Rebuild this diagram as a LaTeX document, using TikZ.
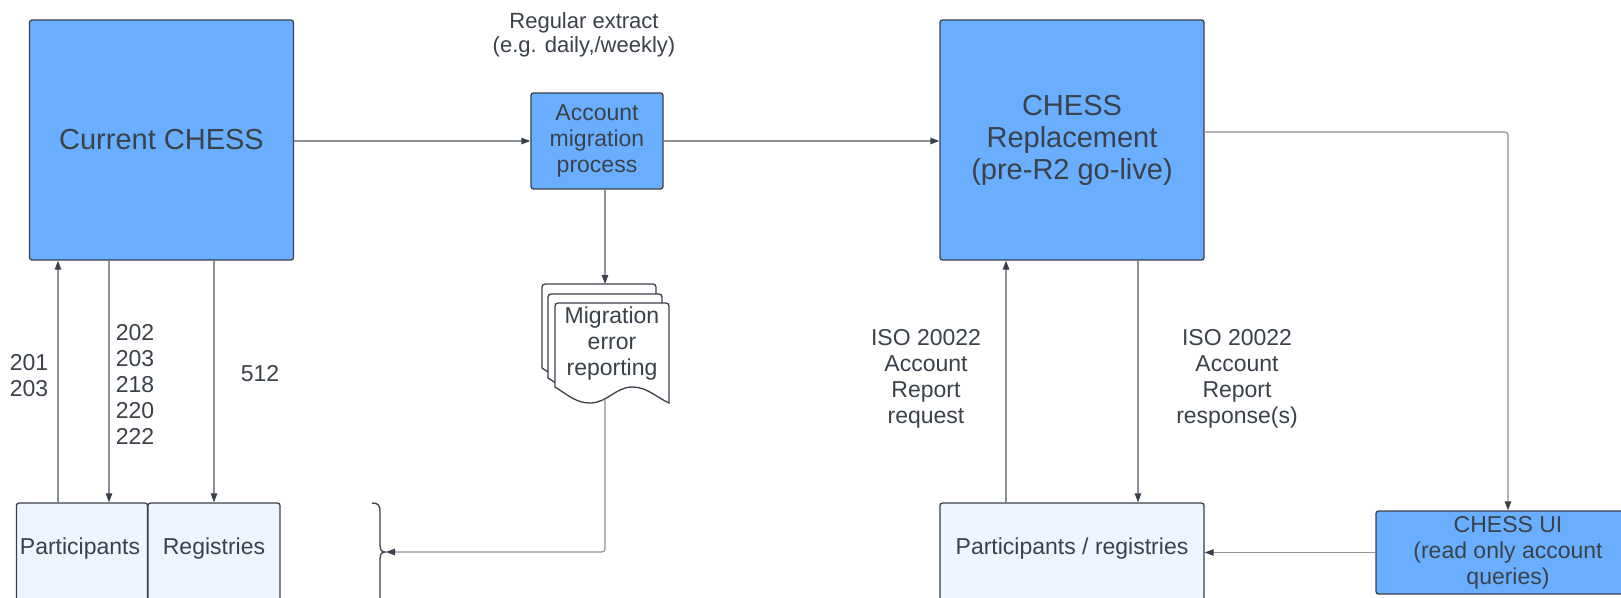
\documentclass[tikz,border=0pt]{standalone}
\usepackage{fontspec}
\setmainfont{Liberation Sans}
\usetikzlibrary{arrows.meta}
\definecolor{boxblue}{HTML}{6AAFFF}
\definecolor{boxlight}{HTML}{EDF5FF}
\definecolor{ink}{HTML}{3A414A}
\definecolor{wire}{HTML}{8C9096}
\tikzset{
  bigbox/.style={draw=ink, fill=boxblue, line width=1.3pt, rounded corners=2.5pt,
    minimum width=264pt, minimum height=240pt, inner sep=0pt, text=ink,
    font=\fontsize{29}{32}\selectfont, align=center},
  procbox/.style={draw=ink, fill=boxblue, line width=1.3pt, rounded corners=2.5pt,
    minimum width=132pt, minimum height=96pt, inner sep=0pt, text=ink,
    font=\fontsize{23}{26}\selectfont, align=center},
  uibox/.style={draw=ink, fill=boxblue, line width=1.3pt, rounded corners=2.5pt,
    minimum width=264pt, minimum height=83pt, inner sep=0pt, text=ink,
    font=\fontsize{23}{26}\selectfont, align=center},
  lightbox/.style={draw=ink, fill=boxlight, line width=1.3pt, rounded corners=2.5pt,
    minimum height=150pt, inner sep=0pt},
  txt/.style={text=ink, font=\fontsize{23}{26}\selectfont, align=center, inner sep=0pt},
  arr/.style={draw=wire, line width=1.1pt, -{Triangle[length=9pt,width=6.5pt,color=ink]}},
  docpage/.style={draw=ink, fill=white, line width=1.3pt},
}
\begin{document}
\begin{tikzpicture}[x=1pt,y=-1pt]
\useasboundingbox (0,0) rectangle (1621,597);
\clip (0,0) rectangle (1621,597);
\fill[white] (0,0) rectangle (1621,597);

% main boxes
\node[bigbox] (cur) at (161.5,140) {Current CHESS};
\node[bigbox] (rep) at (1072,140) {CHESS\\Replacement\\(pre-R2 go-live)};
\node[procbox] (acc) at (597,141) {Account\\migration\\process};
\node[uibox] (ui) at (1508,552.5) {CHESS UI\\(read only account\\queries)};

% light boxes (cut off at the bottom)
\node[lightbox, minimum width=131pt] (part) at (82,578) {};
\node[lightbox, minimum width=132pt] (reg) at (214,578) {};
\node[lightbox, minimum width=264pt] (pr) at (1072,578) {};
\node[txt] (partT) at (80,549) {Participants};
\node[txt] (regT) at (214,549) {Registries};
\node[txt] (prT) at (1072,549) {Participants / registries};

% document stack
\foreach \ox/\oy in {542/284, 548/294, 555/303}{
  \draw[docpage] (\ox,\oy+84) [rounded corners=3pt] -- (\ox,\oy) -- (\ox+114,\oy)
    [sharp corners] -- (\ox+114,\oy+100)
    .. controls (\ox+101,\oy+94) and (\ox+92,\oy+84) .. (\ox+77,\oy+84)
    .. controls (\ox+61,\oy+84) and (\ox+52,\oy+100) .. (\ox+35,\oy+100)
    .. controls (\ox+22,\oy+100) and (\ox+14,\oy+93) .. cycle;
}
\node[txt] (doc) at (612,344) {Migration\\error\\reporting};
\coordinate (docTop) at (605,284);
\coordinate (docBot) at (605,399);

% brace
\coordinate (brace) at (385,552);
\draw[ink, line width=1.3pt] (372,503) .. controls (378,503) and (380,505) .. (380,511)
  -- (380,544) .. controls (380,549) and (381,552) .. (brace)
  .. controls (381,552) and (380,555) .. (380,560) -- (380,600);

% labels
\node[txt, font=\fontsize{22}{24}\selectfont] (extract) at (584,35) {Regular extract\\(e.g. daily,/weekly)};
\node[txt] (codesA) at (29,375.5) {201\\203};
\node[txt] (codesB) at (135,384.5) {202\\203\\218\\220\\222};
\node[txt] (codesC) at (260,374) {512};
\node[txt] (isoReq) at (926,379) {ISO 20022\\Account\\Report\\request};
\node[txt] (isoResp) at (1237,379) {ISO 20022\\Account\\Report\\response(s)};

% connectors
\draw[arr] (cur.east |- acc.west) -- (acc.west);
\draw[arr] (acc.east) -- (acc.east -| rep.west);
\draw[arr, rounded corners=3pt] ([yshift=8pt]rep.east) -| (ui.north);
\draw[arr] (ui.west) -- (ui.west -| pr.east);
\draw[arr] ([xshift=-66pt]pr.north) -- ([xshift=-66pt]pr.north |- rep.south);
\draw[arr] ([xshift=66pt]pr.north |- rep.south) -- ([xshift=66pt]pr.north);
\draw[arr] ([xshift=-24pt]part.north) -- ([xshift=-24pt]part.north |- cur.south);
\draw[arr] ([xshift=27pt]part.north |- cur.south) -- ([xshift=27pt]part.north);
\draw[arr] (cur.south -| reg.north) -- (reg.north);
\draw[arr] (acc.south -| docTop) -- (docTop);
\draw[arr, rounded corners=3pt] (docBot) |- ([xshift=1pt]brace);
\end{tikzpicture}
\end{document}
